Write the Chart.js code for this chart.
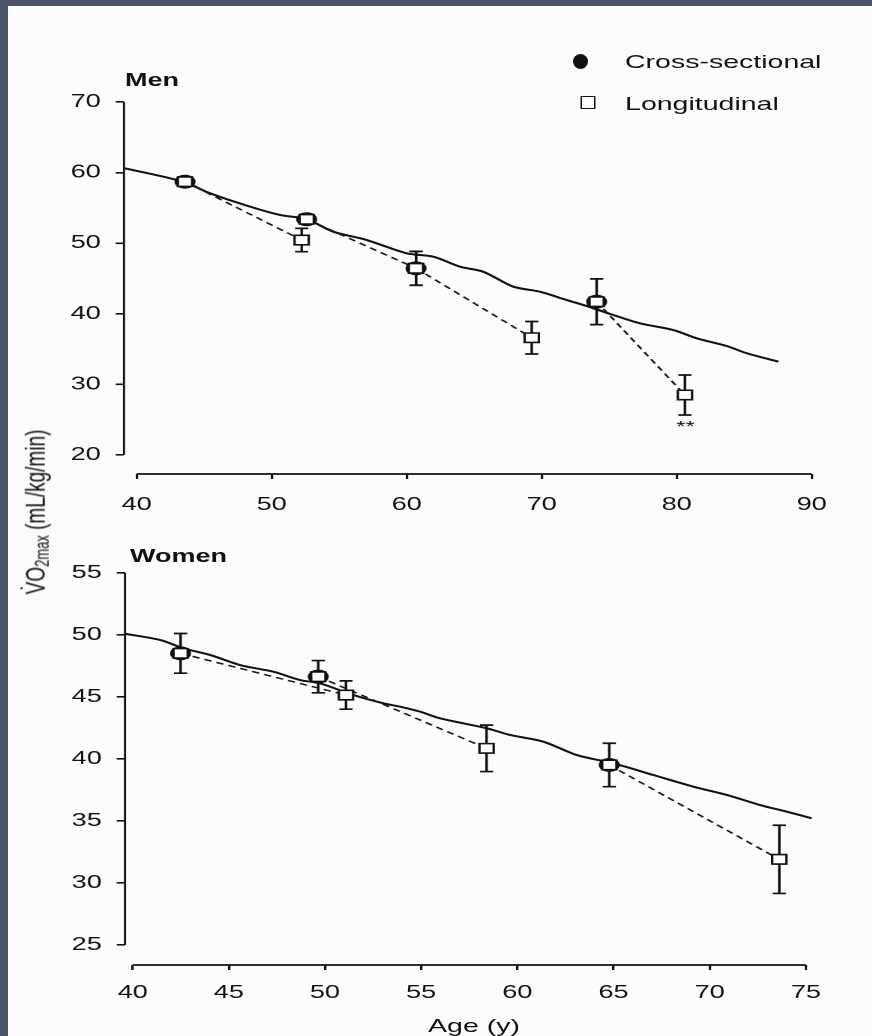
<!DOCTYPE html>
<html><head><meta charset="utf-8">
<script src="https://cdn.jsdelivr.net/npm/chart.js@4.4.1/dist/chart.umd.min.js"></script>
<style>
html,body{margin:0;padding:0;background:#fcfcfc;width:872px;height:1036px;overflow:hidden;font-family:"Liberation Sans",Arial,sans-serif;color:#111;}
#bandTop{position:absolute;left:0;top:0;width:872px;height:6px;background:#4e5468;z-index:5;}
#bandLeft{position:absolute;left:0;top:0;width:8px;height:1036px;background:#4e5468;z-index:5;}
#wrap{position:absolute;left:0;top:0;width:582px;height:1036px;transform:scaleX(1.5);transform-origin:0 0;}
#menC{position:absolute;left:0;top:0;}
#womenC{position:absolute;left:0;top:540px;}
.lbl{position:absolute;white-space:nowrap;line-height:1;}
.panel{font-weight:bold;font-size:18px;}
.leg{font-size:19px;}
#legDot{position:absolute;width:10px;height:15px;border-radius:50%;background:#111;left:381.7px;top:53.5px;}
#legSq{position:absolute;width:8px;height:11px;border:1.5px solid #111;background:#fff;left:386.5px;top:96px;}
#ytitle{position:absolute;left:24px;top:512px;font-size:19px;white-space:nowrap;line-height:1;transform:translate(-50%,-50%) rotate(-90deg);}
#ytitle sub{font-size:13px;vertical-align:-3px;}
#xtitle{position:absolute;left:316px;top:1016px;font-size:19px;line-height:1;white-space:nowrap;transform:translateX(-50%);}
</style></head>
<body>
<div id="bandTop"></div><div id="bandLeft"></div>
<div id="wrap">
  <canvas id="menC" width="582" height="540"></canvas>
  <canvas id="womenC" width="582" height="496"></canvas>
  <div class="lbl panel" style="left:83.3px;top:71px;">Men</div>
  <div class="lbl panel" style="left:86.7px;top:547px;">Women</div>
  <div id="legDot"></div>
  <div class="lbl leg" style="left:416.7px;top:51.5px;">Cross-sectional</div>
  <div id="legSq"></div>
  <div class="lbl leg" style="left:416.7px;top:93.5px;">Longitudinal</div>
  <div id="ytitle">V̇O<sub>2max</sub> (mL/kg/min)</div>
  <div id="xtitle">Age (y)</div>
</div>
<script>
// ---------- DATA ----------
// Men
const menCurveAge = [39.13,43.45,45.43,48.39,50.61,52.59,54.56,57.04,60.0,61.97,63.95,65.67,67.9,69.87,71.85,73.33,75.3,77.28,79.75,81.48,83.7,85.19,87.53];
const menCurveVO2 = [60.61,58.71,57.07,55.18,54.0,53.39,51.63,50.45,48.57,48.09,46.67,45.96,43.84,43.13,41.95,41.1,39.83,38.65,37.7,36.53,35.44,34.41,33.22];
const menCrossAge = [43.58,52.59,60.69,74.07];
const menCrossVO2 = [58.71,53.39,46.44,41.71];
const menLongStartAge = [43.58,52.59,60.69,74.07];
const menLongStartVO2 = [58.71,53.39,46.44,41.71];
const menLongStartSD  = [0,0,2.4,3.24];
const menLongEndAge = [52.22,60.69,69.26,80.61];
const menLongEndVO2 = [50.45,46.44,36.61,28.50];
const menLongEndSD  = [1.65,2.4,2.3,2.83];
const menXTicks = [40,50,60,70,80,90];
const menYTicks = [20,30,40,50,60,70];
const menMark = {age:80.65, vo2:23.9, text:'**'};
// Women
const womenCurveAge = [39.6,41.42,42.63,44.02,45.58,47.31,48.7,49.74,51.47,53.03,53.9,54.94,55.98,58.41,59.62,61.35,63.09,64.99,67.07,69.15,70.89,72.62,74.01,75.31];
const womenCurveVO2 = [50.1,49.6,48.93,48.39,47.58,47.04,46.37,46.1,45.16,44.49,44.22,43.82,43.28,42.48,41.94,41.4,40.32,39.65,38.71,37.77,37.1,36.29,35.75,35.22];
const womenCrossAge = [42.49,49.65,64.78];
const womenCrossVO2 = [48.52,46.64,39.52];
const womenLongStartAge = [42.49,49.65,64.78];
const womenLongStartVO2 = [48.52,46.64,39.52];
const womenLongStartSD  = [1.6,1.3,1.75];
const womenLongEndAge = [51.09,58.4,73.62];
const womenLongEndVO2 = [45.16,40.86,31.91];
const womenLongEndSD  = [1.14,1.87,2.75];
const womenXTicks = [40,45,50,55,60,65,70,75];
const womenYTicks = [25,30,35,40,45,50,55];

// ---------- BUILD ----------
const FONT = {family:'"Liberation Sans", Arial, sans-serif', size:18};
function makeChart(id, o){
  const ds = [];
  ds.push({data:o.curveAge.map((a,i)=>({x:a,y:o.curveVO2[i]})), showLine:true, borderColor:'#111', borderWidth:2,
           pointRadius:0, tension:0.3, order:3});
  o.startAge.forEach((a,i)=>{
    ds.push({data:[{x:a,y:o.startVO2[i]},{x:o.endAge[i],y:o.endVO2[i]}], showLine:true, borderColor:'#1a1a1a',
             borderWidth:1.5, borderDash:[5,3.5], pointStyle:'rect', pointRadius:6.7, pointBackgroundColor:'#fff',
             pointBorderColor:'#111', pointBorderWidth:1.6, order:1});
  });
  ds.push({data:o.crossAge.map((a,i)=>({x:a,y:o.crossVO2[i]})), showLine:false, pointStyle:'circle', pointRadius:7,
           pointBackgroundColor:'#111', pointBorderColor:'#111', pointBorderWidth:0, order:2});
  const bars = [];
  o.startAge.forEach((a,i)=>bars.push({age:a, vo2:o.startVO2[i], sd:o.startSD[i]}));
  o.endAge.forEach((a,i)=>bars.push({age:a, vo2:o.endVO2[i], sd:o.endSD[i]}));
  const plug = {
    id:'custom_'+id,
    beforeDatasetsDraw(chart){
      const {ctx, scales:{x,y}} = chart;
      ctx.save(); ctx.strokeStyle='#111'; ctx.lineWidth=1.7;
      bars.forEach(b=>{
        if(!b.sd) return;
        const px=x.getPixelForValue(b.age), t=y.getPixelForValue(b.vo2+b.sd), bt=y.getPixelForValue(b.vo2-b.sd);
        ctx.beginPath();
        ctx.moveTo(px,t); ctx.lineTo(px,bt);
        ctx.moveTo(px-4.4,t); ctx.lineTo(px+4.4,t);
        ctx.moveTo(px-4.4,bt); ctx.lineTo(px+4.4,bt);
        ctx.stroke();
      });
      ctx.restore();
    },
    afterDraw(chart){
      const {ctx, chartArea:ca, scales:{x,y}} = chart;
      ctx.save(); ctx.strokeStyle='#111';
      ctx.lineWidth=1.4; ctx.beginPath();
      ctx.moveTo(ca.left, y.getPixelForValue(o.yTicks[o.yTicks.length-1]));
      ctx.lineTo(ca.left, y.getPixelForValue(o.yTicks[0])); ctx.stroke();
      ctx.lineWidth=1.8; ctx.beginPath();
      ctx.moveTo(x.getPixelForValue(o.xTicks[0]), ca.bottom);
      ctx.lineTo(x.getPixelForValue(o.xTicks[o.xTicks.length-1]), ca.bottom); ctx.stroke();
      if(o.mark){
        ctx.fillStyle='#111'; ctx.font='16px "Liberation Sans", Arial, sans-serif';
        ctx.textAlign='center'; ctx.textBaseline='middle';
        ctx.fillText(o.mark.text, x.getPixelForValue(o.mark.age), y.getPixelForValue(o.mark.vo2));
      }
      ctx.restore();
    }
  };
  return new Chart(document.getElementById(id), {
    type:'scatter',
    data:{datasets:ds},
    plugins:[plug],
    options:{
      responsive:false, animation:false, devicePixelRatio:2,
      layout:{padding:o.pad},
      plugins:{legend:{display:false}, tooltip:{enabled:false}},
      scales:{
        x:{type:'linear', min:o.xMin, max:o.xMax,
           afterBuildTicks:s=>{s.ticks=o.xTicks.map(v=>({value:v}));},
           afterFit:s=>{s.height=50;},
           grid:{display:true, drawOnChartArea:false, drawTicks:true, tickLength:5, color:'#111', lineWidth:1.6},
           border:{display:false},
           ticks:{font:FONT, color:'#111', padding:o.xPad, maxRotation:0, autoSkip:false}},
        y:{type:'linear', min:o.yMin, max:o.yMax,
           afterBuildTicks:s=>{s.ticks=o.yTicks.map(v=>({value:v}));},
           afterFit:s=>{s.width=o.yW;},
           grid:{display:true, drawOnChartArea:false, drawTicks:true, tickLength:5.5, color:'#111', lineWidth:1.6},
           border:{display:false},
           ticks:{font:FONT, color:'#111', padding:10, autoSkip:false}}
      }
    }
  });
}

makeChart('menC', {
  curveAge:menCurveAge, curveVO2:menCurveVO2, crossAge:menCrossAge, crossVO2:menCrossVO2,
  startAge:menLongStartAge, startVO2:menLongStartVO2, startSD:menLongStartSD,
  endAge:menLongEndAge, endVO2:menLongEndVO2, endSD:menLongEndSD,
  xTicks:menXTicks, yTicks:menYTicks, mark:menMark,
  xMin:39.06, xMax:90.02, yMin:17.31, yMax:70,
  pad:{left:0, top:102, right:40.67, bottom:16}, yW:82.67, xPad:15
});
makeChart('womenC', {
  curveAge:womenCurveAge, curveVO2:womenCurveVO2, crossAge:womenCrossAge, crossVO2:womenCrossVO2,
  startAge:womenLongStartAge, startVO2:womenLongStartVO2, startSD:womenLongStartSD,
  endAge:womenLongEndAge, endVO2:womenLongEndVO2, endSD:womenLongEndSD,
  xTicks:womenXTicks, yTicks:womenYTicks, mark:null,
  xMin:39.6, xMax:75.32, yMin:23.39, yMax:55,
  pad:{left:0, top:33, right:40.67, bottom:21}, yW:83.33, xPad:12
});
</script>
</body></html>
